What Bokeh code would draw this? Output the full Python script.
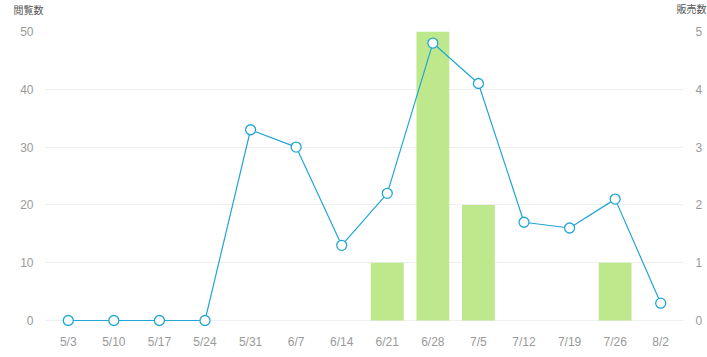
from bokeh.plotting import figure
from bokeh.models import Range1d, LinearAxis, FactorRange, FixedTicker, Label
from bokeh.embed import file_html
from bokeh.resources import INLINE

weeks = ["5/3", "5/10", "5/17", "5/24", "5/31", "6/7", "6/14", "6/21", "6/28", "7/5", "7/12", "7/19", "7/26", "8/2"]
views = [0, 0, 0, 0, 33, 30, 13, 22, 48, 41, 17, 16, 21, 3]
sales = [0, 0, 0, 0, 0, 0, 0, 1, 5, 2, 0, 0, 1, 0]
view_ticks = [0, 10, 20, 30, 40, 50]
sales_ticks = [0, 1, 2, 3, 4, 5]

LINE = "#22a6d3"
BAR = "#bde88b"
GRID = "#efefef"
TXT = "#9a9a9a"
FONT = "Liberation Sans"

FW, FH = 638, 295
pad = 50 * 6 / 289.0  # small space below zero so markers at 0 are not clipped

p = figure(x_range=FactorRange(*weeks, range_padding=0), y_range=Range1d(-pad, 50),
           frame_width=FW, frame_height=FH,
           min_border_left=45, min_border_right=24, min_border_top=31, min_border_bottom=30,
           output_backend="svg", toolbar_location=None, outline_line_color=None)
p.extra_y_ranges = {"sales": Range1d(-pad / 10, 5)}

p.vbar(x=weeks, top=sales, bottom=0, width=0.72, y_range_name="sales", color=BAR, line_color=None)
p.line(x=weeks, y=views, color=LINE, line_width=1.2)
p.scatter(x=weeks, y=views, size=10, fill_color="white", line_color=LINE, line_width=1.3)

right = LinearAxis(y_range_name="sales", ticker=FixedTicker(ticks=sales_ticks))
p.add_layout(right, "right")

p.yaxis[0].ticker = FixedTicker(ticks=view_ticks)
for ax in [p.yaxis[0], right, p.xaxis[0]]:
    ax.axis_line_color = None
    ax.major_tick_line_color = None
    ax.minor_tick_line_color = None
    ax.major_tick_out = 0
    ax.major_tick_in = 0
    ax.major_label_text_color = TXT
    ax.major_label_text_font = FONT
    ax.major_label_text_font_size = "12px"
    ax.major_label_standoff = 12
p.xaxis[0].major_label_standoff = 8

p.xgrid.grid_line_color = None
p.ygrid.grid_line_color = GRID
p.ygrid.ticker = FixedTicker(ticks=view_ticks)

p.title.text = ""

# the second label sits in a stacked panel one label-height further out
for xpos, ypos, txt in [(-17, 22, "閲覧数"), (FW + 8, 8.5, "販売数")]:
    p.add_layout(Label(x=xpos, y=ypos, x_units="screen", y_units="screen", text=txt,
                       text_align="center", text_baseline="middle", text_font="Noto Sans CJK JP",
                       text_font_size="10px", text_color="#555555"), "above")

open("out.html", "w").write(file_html(p, INLINE))
